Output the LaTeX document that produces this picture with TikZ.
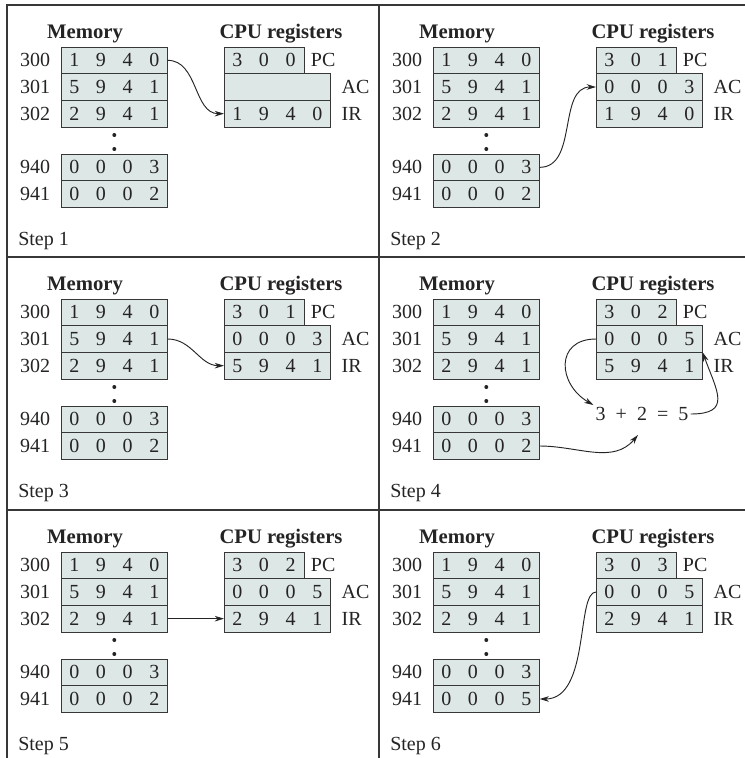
\documentclass[tikz,border=0pt]{standalone}
\usepackage{fontspec}
\setmainfont{Liberation Serif}
\usetikzlibrary{positioning,arrows.meta}

\definecolor{cellfill}{RGB}{221,231,229}
\definecolor{ink}{RGB}{38,35,36}
\definecolor{rule}{RGB}{55,55,55}

% four (or three) digits, one per cell
\newcommand\digs[1]{\digsloop#1\relax}
\def\digsloop#1{\ifx#1\relax\else\makebox[20pt]{#1}\expandafter\digsloop\fi}

% one step: prefix, origin x, origin y, PC, AC, IR, cell 941, step number
\newcommand\cpupanel[8]{%
  \begin{scope}[shift={(#2,#3)}]
    \node[head] (#1mem) at (78,33) {Memory};
    \node[head] (#1cpu) at (274,33) {CPU registers};

    \node[memrow] (#1m300) at (54,42) {\digs{1940}};
    \node[memrow,below=0pt of #1m300] (#1m301) {\digs{5941}};
    \node[memrow,below=0pt of #1m301] (#1m302) {\digs{2941}};
    \node[dot] (#1dota) at (107.3,130) {};
    \node[dot] (#1dotb) at (107.3,144) {};
    \node[memrow] (#1m940) at (54,149) {\digs{0003}};
    \node[memrow,below=0pt of #1m940] (#1m941) {\digs{#7}};
    \foreach \ad in {300,301,302,940,941}
      \node[lab,left=8pt of #1m\ad] (#1a\ad) {\ad};

    \node[memrow,minimum width=60pt] (#1pc) at (217,42) {\digs{#4}};
    \node[memrow] (#1ac) at (#1pc.south west) {\digs{#5}};
    \node[memrow,below=0pt of #1ac] (#1ir) {\digs{#6}};
    \node[lab,right=5pt of #1pc] (#1pcl) {PC};
    \node[lab,right=8pt of #1ac] (#1acl) {AC};
    \node[lab,right=8pt of #1ir] (#1irl) {IR};

    \node[lab,anchor=west] (#1step) at (11,236) {Step #8};
  \end{scope}}

\begin{document}
\begin{tikzpicture}[
    x=0.75pt,y=-0.75pt,
    head/.style={
        font=\fontsize{15.5}{18}\selectfont\bfseries,text=ink,inner sep=0pt,anchor=base
    },
    lab/.style={
        font=\fontsize{15}{18}\selectfont,text=ink,inner sep=0pt
    },
    memrow/.style={
        draw=rule,fill=cellfill,line width=0.7pt,rectangle,anchor=north west,
        minimum width=80pt,minimum height=20pt,inner sep=0pt,outer sep=0pt,
        font=\fontsize{15}{18}\selectfont,text=ink
    },
    dot/.style={
        circle,fill=ink,inner sep=0pt,minimum size=3pt
    },
    frame/.style={
        draw=rule,line width=1.4pt
    },
    arrow/.style={
        ->,draw=ink,line width=0.7pt,>={Stealth[length=7pt,width=4.2pt]}
    }
]
    \useasboundingbox (0,0) rectangle (745,758);

    \cpupanel{s1}{7}{5}{300}{}{1940}{0002}{1}
    \cpupanel{s2}{379}{5}{301}{0003}{1940}{0002}{2}
    \cpupanel{s3}{7}{257}{301}{0003}{5941}{0002}{3}
    \cpupanel{s4}{379}{257}{302}{0005}{5941}{0002}{4}
    \cpupanel{s5}{7}{510}{302}{0005}{2941}{0002}{5}
    \cpupanel{s6}{379}{510}{303}{0005}{2941}{0005}{6}

    \draw[frame] (7,758) -- (7,5) -- (745,5);
    \draw[frame] (379,5) -- (379,758);
    \draw[frame] (7,257) -- (745,257);
    \draw[frame] (7,510) -- (745,510);

    \draw[arrow] (s1m300.east) to[out=0,in=180] (s1ir.west);
    \draw[arrow] (s2m940.east) to[out=0,in=180] (s2ac.west);
    \draw[arrow] (s3m301.east) to[out=0,in=180] (s3ir.west);

    \node[lab,inner sep=1.5pt] (s4sum) at (642,414) {3\enspace+\enspace2\enspace=\enspace5};
    \draw[arrow] (s4ac.west) to[out=180,in=150,looseness=1.6] (s4sum.north west);
    \draw[arrow] (s4sum.east) to[out=0,in=-70,looseness=1.7] (s4ac.south east);
    \draw[arrow] (s4m941.east) to[out=0,in=-130] ([shift={(-3pt,-9pt)}]s4sum.south);

    \draw[arrow] (s5m302.east) -- (s5ir.west);
    \draw[arrow] (s6ac.west) to[out=180,in=0,out distance=15pt,in distance=38pt] (s6m941.east);

\end{tikzpicture}
\end{document}
